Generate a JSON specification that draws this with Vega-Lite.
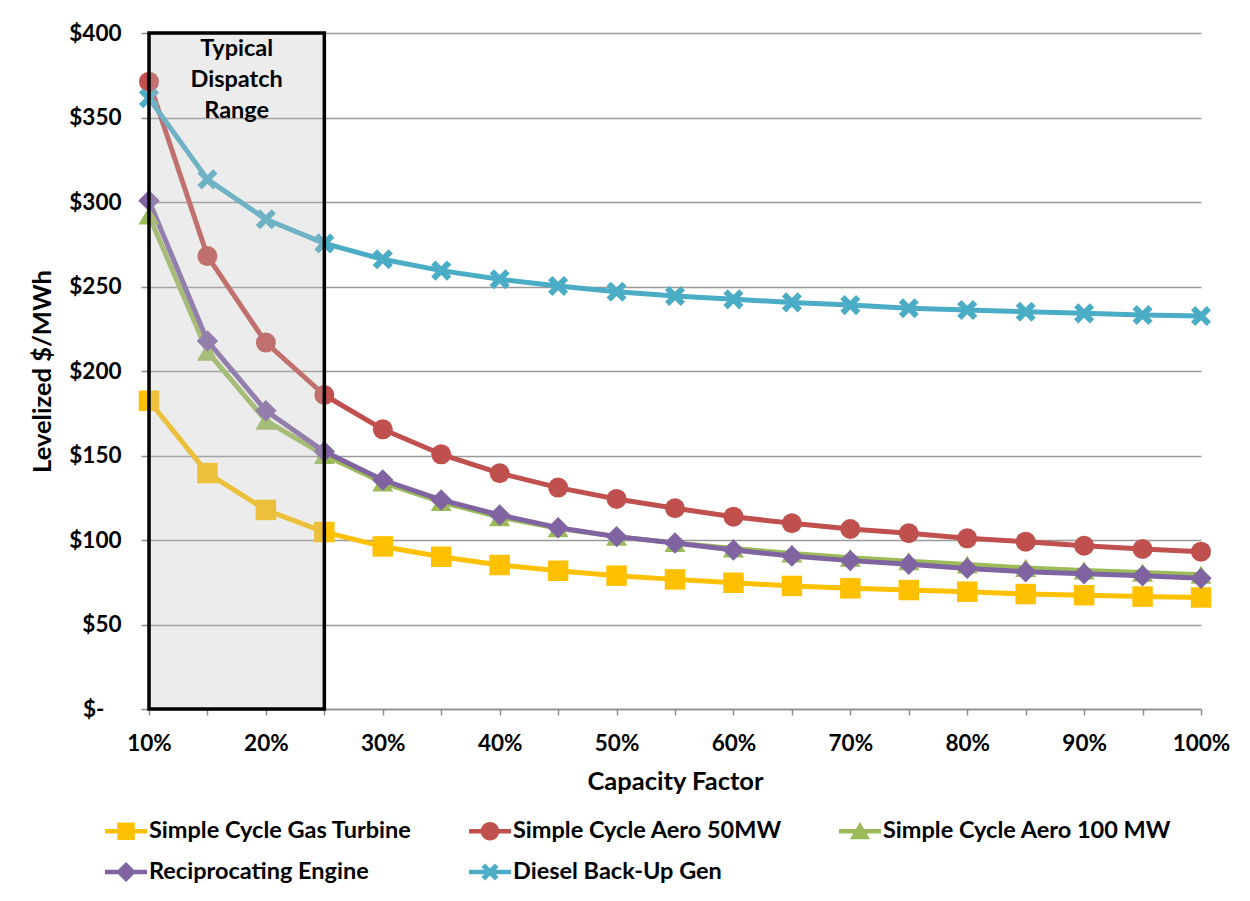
{
  "$schema": "https://vega.github.io/schema/vega-lite/v6.json",
  "width": 1052,
  "height": 676,
  "autosize": {"type": "none"},
  "padding": {"left": 149, "top": 33, "right": 49, "bottom": 192},
  "background": "white",
  "config": {
    "view": {"stroke": null},
    "font": "Lato",
    "axis": {
      "labelFont": "Lato",
      "labelFontWeight": "bold",
      "labelFontSize": 22.5,
      "labelColor": "#000000",
      "titleFont": "Lato",
      "titleFontWeight": "bold",
      "titleFontSize": 25.5,
      "titleColor": "#000000",
      "domainColor": "#8c8c8c",
      "domainWidth": 1.5,
      "tickColor": "#8c8c8c",
      "tickWidth": 1.5
    }
  },
  "layer": [
    {
      "data": {
        "values": [
          {"cf": 0.10, "Series": "Simple Cycle Gas Turbine", "cost": 182.4},
          {"cf": 0.15, "Series": "Simple Cycle Gas Turbine", "cost": 139.6},
          {"cf": 0.20, "Series": "Simple Cycle Gas Turbine", "cost": 117.8},
          {"cf": 0.25, "Series": "Simple Cycle Gas Turbine", "cost": 104.7},
          {"cf": 0.30, "Series": "Simple Cycle Gas Turbine", "cost": 96.2},
          {"cf": 0.35, "Series": "Simple Cycle Gas Turbine", "cost": 90.1},
          {"cf": 0.40, "Series": "Simple Cycle Gas Turbine", "cost": 85.2},
          {"cf": 0.45, "Series": "Simple Cycle Gas Turbine", "cost": 81.8},
          {"cf": 0.50, "Series": "Simple Cycle Gas Turbine", "cost": 78.9},
          {"cf": 0.55, "Series": "Simple Cycle Gas Turbine", "cost": 76.7},
          {"cf": 0.60, "Series": "Simple Cycle Gas Turbine", "cost": 74.7},
          {"cf": 0.65, "Series": "Simple Cycle Gas Turbine", "cost": 72.8},
          {"cf": 0.70, "Series": "Simple Cycle Gas Turbine", "cost": 71.4},
          {"cf": 0.75, "Series": "Simple Cycle Gas Turbine", "cost": 70.4},
          {"cf": 0.80, "Series": "Simple Cycle Gas Turbine", "cost": 69.4},
          {"cf": 0.85, "Series": "Simple Cycle Gas Turbine", "cost": 68.0},
          {"cf": 0.90, "Series": "Simple Cycle Gas Turbine", "cost": 67.3},
          {"cf": 0.95, "Series": "Simple Cycle Gas Turbine", "cost": 66.5},
          {"cf": 1.00, "Series": "Simple Cycle Gas Turbine", "cost": 66.0},

          {"cf": 0.10, "Series": "Simple Cycle Aero 50MW", "cost": 371.2},
          {"cf": 0.15, "Series": "Simple Cycle Aero 50MW", "cost": 268.0},
          {"cf": 0.20, "Series": "Simple Cycle Aero 50MW", "cost": 216.8},
          {"cf": 0.25, "Series": "Simple Cycle Aero 50MW", "cost": 185.8},
          {"cf": 0.30, "Series": "Simple Cycle Aero 50MW", "cost": 165.5},
          {"cf": 0.35, "Series": "Simple Cycle Aero 50MW", "cost": 150.7},
          {"cf": 0.40, "Series": "Simple Cycle Aero 50MW", "cost": 139.5},
          {"cf": 0.45, "Series": "Simple Cycle Aero 50MW", "cost": 131.0},
          {"cf": 0.50, "Series": "Simple Cycle Aero 50MW", "cost": 124.3},
          {"cf": 0.55, "Series": "Simple Cycle Aero 50MW", "cost": 118.8},
          {"cf": 0.60, "Series": "Simple Cycle Aero 50MW", "cost": 113.8},
          {"cf": 0.65, "Series": "Simple Cycle Aero 50MW", "cost": 109.9},
          {"cf": 0.70, "Series": "Simple Cycle Aero 50MW", "cost": 106.5},
          {"cf": 0.75, "Series": "Simple Cycle Aero 50MW", "cost": 104.0},
          {"cf": 0.80, "Series": "Simple Cycle Aero 50MW", "cost": 101.0},
          {"cf": 0.85, "Series": "Simple Cycle Aero 50MW", "cost": 99.0},
          {"cf": 0.90, "Series": "Simple Cycle Aero 50MW", "cost": 96.6},
          {"cf": 0.95, "Series": "Simple Cycle Aero 50MW", "cost": 94.7},
          {"cf": 1.00, "Series": "Simple Cycle Aero 50MW", "cost": 93.1},

          {"cf": 0.10, "Series": "Simple Cycle Aero 100 MW", "cost": 292.0},
          {"cf": 0.15, "Series": "Simple Cycle Aero 100 MW", "cost": 211.4},
          {"cf": 0.20, "Series": "Simple Cycle Aero 100 MW", "cost": 170.6},
          {"cf": 0.25, "Series": "Simple Cycle Aero 100 MW", "cost": 150.3},
          {"cf": 0.30, "Series": "Simple Cycle Aero 100 MW", "cost": 134.0},
          {"cf": 0.35, "Series": "Simple Cycle Aero 100 MW", "cost": 122.5},
          {"cf": 0.40, "Series": "Simple Cycle Aero 100 MW", "cost": 113.5},
          {"cf": 0.45, "Series": "Simple Cycle Aero 100 MW", "cost": 107.0},
          {"cf": 0.50, "Series": "Simple Cycle Aero 100 MW", "cost": 102.0},
          {"cf": 0.55, "Series": "Simple Cycle Aero 100 MW", "cost": 98.3},
          {"cf": 0.60, "Series": "Simple Cycle Aero 100 MW", "cost": 95.0},
          {"cf": 0.65, "Series": "Simple Cycle Aero 100 MW", "cost": 92.0},
          {"cf": 0.70, "Series": "Simple Cycle Aero 100 MW", "cost": 89.5},
          {"cf": 0.75, "Series": "Simple Cycle Aero 100 MW", "cost": 87.5},
          {"cf": 0.80, "Series": "Simple Cycle Aero 100 MW", "cost": 85.5},
          {"cf": 0.85, "Series": "Simple Cycle Aero 100 MW", "cost": 83.5},
          {"cf": 0.90, "Series": "Simple Cycle Aero 100 MW", "cost": 82.0},
          {"cf": 0.95, "Series": "Simple Cycle Aero 100 MW", "cost": 80.7},
          {"cf": 1.00, "Series": "Simple Cycle Aero 100 MW", "cost": 79.5},

          {"cf": 0.10, "Series": "Reciprocating Engine", "cost": 300.8},
          {"cf": 0.15, "Series": "Reciprocating Engine", "cost": 217.8},
          {"cf": 0.20, "Series": "Reciprocating Engine", "cost": 176.5},
          {"cf": 0.25, "Series": "Reciprocating Engine", "cost": 152.3},
          {"cf": 0.30, "Series": "Reciprocating Engine", "cost": 135.5},
          {"cf": 0.35, "Series": "Reciprocating Engine", "cost": 123.7},
          {"cf": 0.40, "Series": "Reciprocating Engine", "cost": 114.8},
          {"cf": 0.45, "Series": "Reciprocating Engine", "cost": 107.3},
          {"cf": 0.50, "Series": "Reciprocating Engine", "cost": 102.0},
          {"cf": 0.55, "Series": "Reciprocating Engine", "cost": 98.2},
          {"cf": 0.60, "Series": "Reciprocating Engine", "cost": 94.1},
          {"cf": 0.65, "Series": "Reciprocating Engine", "cost": 90.5},
          {"cf": 0.70, "Series": "Reciprocating Engine", "cost": 87.8},
          {"cf": 0.75, "Series": "Reciprocating Engine", "cost": 85.6},
          {"cf": 0.80, "Series": "Reciprocating Engine", "cost": 83.2},
          {"cf": 0.85, "Series": "Reciprocating Engine", "cost": 81.2},
          {"cf": 0.90, "Series": "Reciprocating Engine", "cost": 80.0},
          {"cf": 0.95, "Series": "Reciprocating Engine", "cost": 78.9},
          {"cf": 1.00, "Series": "Reciprocating Engine", "cost": 77.3},

          {"cf": 0.10, "Series": "Diesel Back-Up Gen", "cost": 361.4},
          {"cf": 0.15, "Series": "Diesel Back-Up Gen", "cost": 313.4},
          {"cf": 0.20, "Series": "Diesel Back-Up Gen", "cost": 289.8},
          {"cf": 0.25, "Series": "Diesel Back-Up Gen", "cost": 275.5},
          {"cf": 0.30, "Series": "Diesel Back-Up Gen", "cost": 266.1},
          {"cf": 0.35, "Series": "Diesel Back-Up Gen", "cost": 259.4},
          {"cf": 0.40, "Series": "Diesel Back-Up Gen", "cost": 254.3},
          {"cf": 0.45, "Series": "Diesel Back-Up Gen", "cost": 250.3},
          {"cf": 0.50, "Series": "Diesel Back-Up Gen", "cost": 246.9},
          {"cf": 0.55, "Series": "Diesel Back-Up Gen", "cost": 244.4},
          {"cf": 0.60, "Series": "Diesel Back-Up Gen", "cost": 242.4},
          {"cf": 0.65, "Series": "Diesel Back-Up Gen", "cost": 240.6},
          {"cf": 0.70, "Series": "Diesel Back-Up Gen", "cost": 239.0},
          {"cf": 0.75, "Series": "Diesel Back-Up Gen", "cost": 237.1},
          {"cf": 0.80, "Series": "Diesel Back-Up Gen", "cost": 236.1},
          {"cf": 0.85, "Series": "Diesel Back-Up Gen", "cost": 235.1},
          {"cf": 0.90, "Series": "Diesel Back-Up Gen", "cost": 234.1},
          {"cf": 0.95, "Series": "Diesel Back-Up Gen", "cost": 233.1},
          {"cf": 1.00, "Series": "Diesel Back-Up Gen", "cost": 232.5}
        ]
      },
      "encoding": {
        "x": {
          "field": "cf",
          "type": "quantitative",
          "scale": {"domain": [0.1, 1.0], "nice": false, "zero": false},
          "axis": {
            "title": "Capacity Factor",
            "values": [0.1, 0.15, 0.2, 0.25, 0.3, 0.35, 0.4, 0.45, 0.5, 0.55, 0.6, 0.65, 0.7, 0.75, 0.8, 0.85, 0.9, 0.95, 1.0],
            "format": ".0%",
            "labelExpr": "round(datum.value * 100) % 10 == 0 ? datum.label : ''",
            "grid": false,
            "tickSize": 6,
            "labelPadding": 17,
            "titlePadding": 15,
            "labelFlush": false,
            "labelOverlap": false
          }
        },
        "y": {
          "field": "cost",
          "type": "quantitative",
          "scale": {"domain": [0, 400], "nice": false},
          "axis": {
            "title": "Levelized $/MWh",
            "values": [0, 50, 100, 150, 200, 250, 300, 350, 400],
            "labelExpr": "datum.value == 0 ? '$-\u2800' : '$' + datum.value",
            "grid": true,
            "gridColor": "#999999",
            "gridWidth": 1.5,
            "tickSize": 8,
            "labelPadding": 20,
            "titlePadding": 13,
            "labelFlush": false
          }
        },
        "color": {
          "field": "Series",
          "type": "nominal",
          "scale": {
            "domain": ["Simple Cycle Gas Turbine", "Simple Cycle Aero 50MW", "Simple Cycle Aero 100 MW", "Reciprocating Engine", "Diesel Back-Up Gen"],
            "range": ["#FFC000", "#C0504D", "#9BBB59", "#8064A2", "#4BACC6"]
          },
          "legend": {
            "title": null,
            "orient": "none",
            "legendX": -44,
            "legendY": 777,
            "direction": "horizontal",
            "columns": 3,
            "columnPadding": 57,
            "rowPadding": 8,
            "symbolSize": 1764,
            "symbolType": "square",
            "symbolStrokeWidth": 0,
            "symbolOpacity": 1,
            "labelFont": "Lato",
            "labelFontWeight": "bold",
            "labelFontSize": 23.5,
            "labelColor": "#000000",
            "labelOffset": 2,
            "labelLimit": 400,
            "encode": {
              "symbols": {
                "update": {
                  "shape": {"signal": "datum.value === 'Simple Cycle Gas Turbine' ? 'M-1,-0.11H1V0.11H-1ZM-0.42,-0.42H0.42V0.42H-0.42Z' : datum.value === 'Simple Cycle Aero 50MW' ? 'M-1,-0.11H1V0.11H-1ZM-0.44,0A0.44,0.44 0 1,1 0.44,0A0.44,0.44 0 1,1 -0.44,0Z' : datum.value === 'Simple Cycle Aero 100 MW' ? 'M-1,-0.11H1V0.11H-1ZM0,-0.44L0.48,0.38H-0.48Z' : datum.value === 'Reciprocating Engine' ? 'M-1,-0.11H1V0.11H-1ZM0,-0.48L0.48,0L0,0.48L-0.48,0Z' : 'M-1,-0.11H1V0.11H-1ZM0.233,-0.403L0.403,-0.233L0.17,0L0.403,0.233L0.233,0.403L0,0.17L-0.233,0.403L-0.403,0.233L-0.17,0L-0.403,-0.233L-0.233,-0.403L0,-0.17Z'"},
                  "fill": {"scale": "color", "field": "value"},
                  "size": {"value": 1764},
                  "strokeWidth": {"value": 0},
                  "opacity": {"value": 1}
                }
              }
            }
          }
        }
      },
      "layer": [
        {
          "mark": {"type": "line", "strokeWidth": 5, "strokeCap": "round", "strokeJoin": "round"}
        },
        {
          "transform": [{"filter": "datum.Series === 'Simple Cycle Gas Turbine'"}],
          "mark": {"type": "point", "filled": true, "opacity": 1, "size": 420, "shape": "square"}
        },
        {
          "transform": [{"filter": "datum.Series === 'Simple Cycle Aero 50MW'"}],
          "mark": {"type": "point", "filled": true, "opacity": 1, "size": 400, "shape": "circle"}
        },
        {
          "transform": [{"filter": "datum.Series === 'Simple Cycle Aero 100 MW'"}],
          "mark": {"type": "point", "filled": true, "opacity": 1, "size": 440, "shape": "triangle-up"}
        },
        {
          "transform": [{"filter": "datum.Series === 'Reciprocating Engine'"}],
          "mark": {"type": "point", "filled": true, "opacity": 1, "size": 460, "shape": "diamond"}
        },
        {
          "transform": [{"filter": "datum.Series === 'Diesel Back-Up Gen'"}],
          "mark": {"type": "point", "filled": true, "opacity": 1, "size": 500, "shape": "M0.516,-0.898L0.898,-0.516L0.382,0L0.898,0.516L0.516,0.898L0,0.382L-0.516,0.898L-0.898,0.516L-0.382,0L-0.898,-0.516L-0.516,-0.898L0,-0.382Z"}
        }
      ]
    },
    {
      "data": {"values": [{"range": "Typical Dispatch Range", "from": 0.1, "to": 0.25, "low": 0, "high": 400}]},
      "mark": {"type": "rect", "fill": "#c0c0c0", "fillOpacity": 0.3, "stroke": "#000000", "strokeWidth": 3.5},
      "encoding": {
        "x": {"field": "from", "type": "quantitative"},
        "x2": {"field": "to"},
        "y": {"field": "low", "type": "quantitative"},
        "y2": {"field": "high"}
      }
    },
    {
      "data": {"values": [{"label": ["Typical", "Dispatch", "Range"], "mid": 0.175, "top": 400}]},
      "mark": {"type": "text", "font": "Lato", "fontWeight": "bold", "fontSize": 23.5, "lineHeight": 31, "align": "center", "baseline": "top", "dy": 4, "color": "#000000"},
      "encoding": {
        "x": {"field": "mid", "type": "quantitative"},
        "y": {"field": "top", "type": "quantitative"},
        "text": {"field": "label"}
      }
    }
  ]
}
